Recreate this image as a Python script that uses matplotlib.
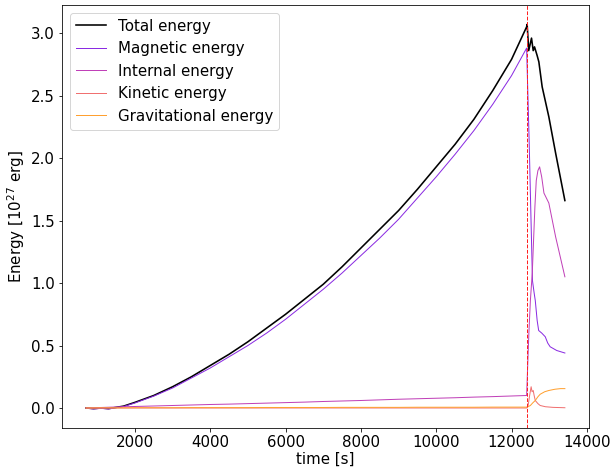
import matplotlib
matplotlib.use('Agg')
import matplotlib.pyplot as plt

# time [s] and energies [1e27 erg]
t_rise = [700, 900, 1100, 1300, 1500, 1700, 2000, 2500, 3000, 3500, 4000, 4500, 5000, 5500, 6000,
          6500, 7000, 7500, 8000, 8500, 9000, 9500, 10000, 10500, 11000, 11500, 12000, 12400]
total_rise = [0.0, -0.005, 0.0, -0.005, 0.005, 0.015, 0.045, 0.10, 0.17, 0.25, 0.34, 0.43, 0.53,
              0.64, 0.75, 0.87, 0.99, 1.13, 1.28, 1.43, 1.58, 1.75, 1.93, 2.11, 2.31, 2.54, 2.79, 3.05]
mag_rise = [0.0, -0.008, -0.003, -0.008, 0.002, 0.012, 0.04, 0.095, 0.16, 0.24, 0.32, 0.41, 0.50,
            0.60, 0.71, 0.83, 0.95, 1.08, 1.22, 1.36, 1.51, 1.68, 1.85, 2.03, 2.22, 2.43, 2.66, 2.88]
int_rise = [0.0, 0.002, 0.004, 0.006, 0.008, 0.01, 0.012, 0.016, 0.02, 0.024, 0.028, 0.031, 0.035,
            0.039, 0.043, 0.047, 0.052, 0.056, 0.06, 0.065, 0.07, 0.074, 0.078, 0.082, 0.087, 0.091,
            0.096, 0.10]
kin_rise = [0.0] * 28
grav_rise = [0.0, 0.0, 0.001, 0.001, 0.001, 0.001, 0.002, 0.002, 0.002, 0.003, 0.003, 0.003, 0.003,
             0.004, 0.004, 0.004, 0.004, 0.005, 0.005, 0.005, 0.005, 0.006, 0.006, 0.006, 0.006,
             0.007, 0.007, 0.007]

t_total_after = [12414, 12456, 12530, 12575, 12610, 12680, 12725, 12813, 12990, 13170, 13416]
total_after = [3.07, 2.86, 2.96, 2.86, 2.89, 2.82, 2.77, 2.57, 2.33, 2.04, 1.66]

t_mag_after = [12467, 12555, 12600, 12630, 12680, 12720, 12800, 12895, 12960, 13025, 13200, 13416]
mag_after = [2.14, 1.02, 0.92, 0.86, 0.70, 0.62, 0.60, 0.57, 0.52, 0.49, 0.46, 0.44]

t_int_after = [12430, 12460, 12500, 12550, 12620, 12656, 12700, 12745, 12800, 12860, 12990, 13170, 13416]
int_after = [0.35, 0.60, 0.86, 1.08, 1.61, 1.82, 1.90, 1.93, 1.85, 1.72, 1.64, 1.37, 1.05]

t_kin_after = [12440, 12480, 12520, 12545, 12575, 12600, 12630, 12700, 12760, 12900, 13100, 13416]
kin_after = [0.02, 0.10, 0.17, 0.13, 0.14, 0.10, 0.06, 0.035, 0.02, 0.01, 0.005, 0.002]

t_grav_after = [12420, 12500, 12560, 12630, 12700, 12760, 12880, 12990, 13150, 13300, 13416]
grav_after = [0.007, 0.02, 0.04, 0.06, 0.09, 0.11, 0.13, 0.14, 0.15, 0.155, 0.155]

t_flare = 12400

t_total = t_rise + t_total_after
t_mag = t_rise + t_mag_after
t_int = t_rise + t_int_after
t_kin = t_rise + t_kin_after
t_grav = t_rise + t_grav_after

plt.rcParams['font.size'] = 15
fig = plt.figure(figsize=(614 / 72, 468 / 72), dpi=72)
ax = fig.add_axes([0.101, 0.085, 0.858, 0.904])

ax.plot(t_total, total_rise + total_after, color='black', lw=1.6, label='Total energy')
ax.plot(t_mag, mag_rise + mag_after, color='#8a2be2', lw=1, label='Magnetic energy')
ax.plot(t_int, int_rise + int_after, color='#c040b8', lw=1, label='Internal energy')
ax.plot(t_kin, kin_rise + kin_after, color='#f07070', lw=1, label='Kinetic energy')
ax.plot(t_grav, grav_rise + grav_after, color='#ffa030', lw=1, label='Gravitational energy')
ax.axvline(t_flare, color='#ff2020', ls='--', lw=1.0)

ax.set_xlabel('time [s]', labelpad=2)
ax.set_ylabel('Energy [$10^{27}$ erg]')
ax.legend(loc='upper left')

fig.savefig('out.png', dpi=72)
